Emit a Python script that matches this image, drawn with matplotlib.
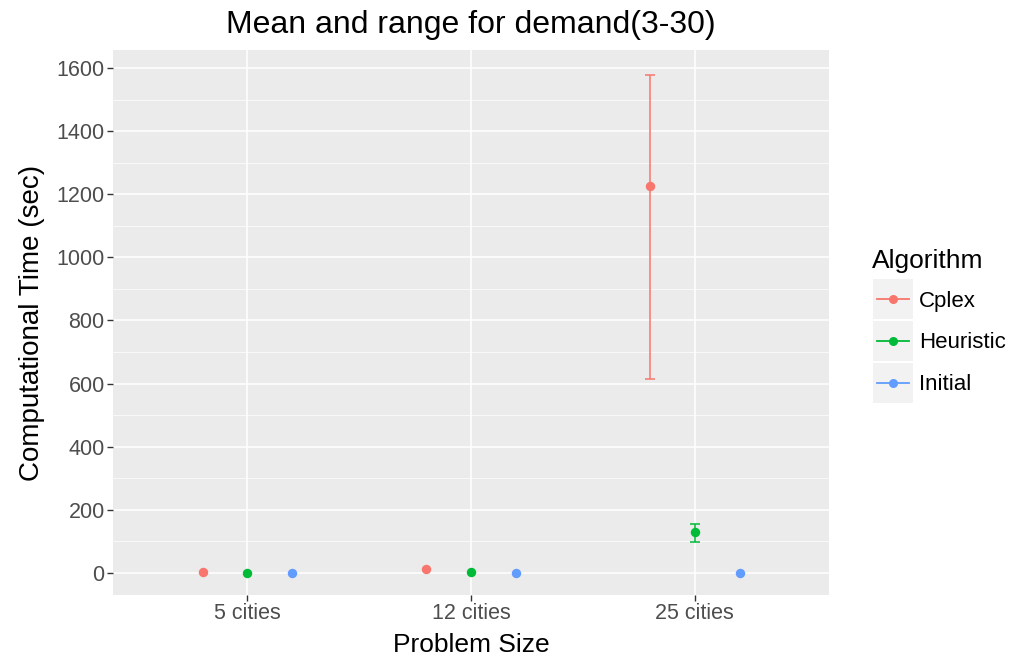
import matplotlib
matplotlib.use('Agg')
from matplotlib import pyplot as plt
from matplotlib.lines import Line2D
from matplotlib.patches import Rectangle

# data
sizes = ['5 cities', '12 cities', '25 cities']
algorithms = ['Cplex', 'Heuristic', 'Initial']
colors = ['#F8766D', '#00BA38', '#619CFF']

means = {
    'Cplex': [4, 12, 1225],
    'Heuristic': [0, 4, 130],
    'Initial': [0, 0, 0],
}
lows = {
    'Cplex': [4, 12, 615],
    'Heuristic': [0, 4, 98],
    'Initial': [0, 0, 0],
}
highs = {
    'Cplex': [4, 12, 1577],
    'Heuristic': [0, 4, 155],
    'Initial': [0, 0, 0],
}
offsets = [-0.2, 0, 0.2]

plt.rcParams['font.family'] = ['Liberation Sans', 'DejaVu Sans']

W, H = 1015, 670
fig = plt.figure(figsize=(W / 100, H / 100), dpi=100)
ax = fig.add_axes([113 / W, 1 - 595 / H, 716 / W, 545 / H])
ax.set_facecolor('#EBEBEB')

for alg, col, off in zip(algorithms, colors, offsets):
    for i in range(len(sizes)):
        x = i + 1 + off
        m = means[alg][i]
        lo, hi = lows[alg][i], highs[alg][i]
        if hi > lo:
            ax.errorbar(x, m, yerr=[[m - lo], [hi - m]], fmt='none', ecolor=col,
                        elinewidth=1.1, capsize=3.3, capthick=1.1, zorder=3)
        ax.plot(x, m, 'o', color=col, markersize=6.8, zorder=4, markeredgewidth=0)

ax.set_xlim(0.4, 3.6)
ax.set_ylim(-70, 1657)
ax.set_xticks([1, 2, 3])
ax.set_xticklabels(sizes)
ax.set_yticks(range(0, 1601, 200))
ax.set_yticks(range(100, 1601, 200), minor=True)

ax.grid(True, which='major', color='white', linewidth=1.1, zorder=0)
ax.grid(True, which='minor', axis='y', color='white', linewidth=0.5, zorder=0)
ax.set_axisbelow(True)
for s in ax.spines.values():
    s.set_visible(False)
ax.tick_params(axis='both', which='major', colors='#333333', labelcolor='#4D4D4D',
               labelsize=15.5, length=4, width=1, pad=2)
ax.tick_params(axis='y', which='minor', length=0)

ax.set_xlabel('Problem Size', fontsize=19, labelpad=6)
ax.set_ylabel('Computational Time (sec)', fontsize=20, labelpad=8)
ax.set_title('Mean and range for demand(3-30)', fontsize=23, pad=12)

# legend drawn by hand, ggplot style with grey key boxes
fig.text(872 / W, 1 - 261 / H, 'Algorithm', fontsize=19, va='center', ha='left')
key_centers = [299, 341, 383]
for alg, col, yc in zip(algorithms, colors, key_centers):
    fig.patches.append(Rectangle((873 / W, 1 - (yc + 20) / H), 40 / W, 40 / H,
                                 transform=fig.transFigure, facecolor='#F2F2F2',
                                 edgecolor='none', zorder=1))
    fig.lines.append(Line2D([877 / W, 909 / W], [1 - yc / H, 1 - yc / H],
                            transform=fig.transFigure, color=col, linewidth=1.3, zorder=2))
    fig.lines.append(Line2D([893 / W], [1 - yc / H], transform=fig.transFigure,
                            color=col, marker='o', markersize=6.5, markeredgewidth=0, zorder=3))
    fig.text(919 / W, 1 - (yc + 2) / H, alg, fontsize=16, va='center', ha='left')

fig.savefig('out.png', dpi=100)
